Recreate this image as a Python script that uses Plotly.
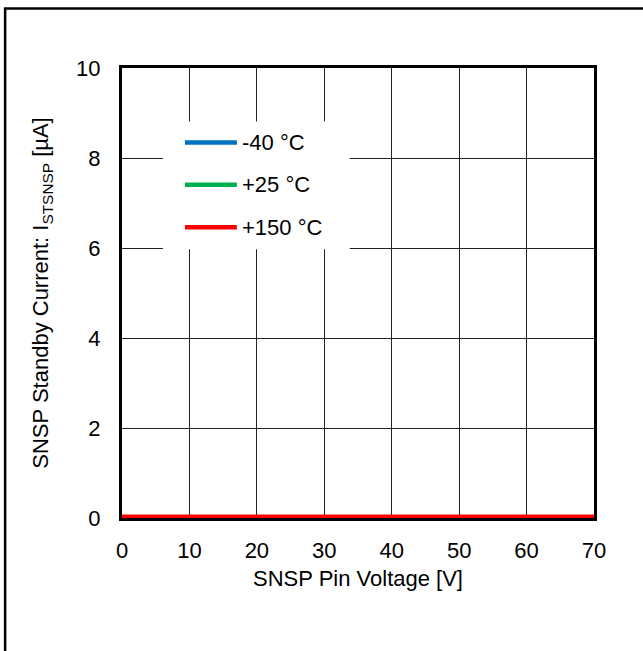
import plotly.graph_objects as go

# SNSP pin voltage sweep [V] and standby current [uA] per temperature
voltage = [0, 5, 10, 15, 20, 25, 30, 35, 40, 45, 50, 55, 60, 65, 70]
i_m40 = [0.0, 0.0, 0.0, 0.0, 0.0, 0.0, 0.0, 0.0, 0.0, 0.0, 0.0, 0.0, 0.0, 0.0, 0.0]
i_p25 = [0.0, 0.0, 0.0, 0.0, 0.0, 0.0, 0.0, 0.0, 0.0, 0.0, 0.0, 0.0, 0.0, 0.0, 0.0]
i_p150 = [0.01, 0.01, 0.01, 0.01, 0.01, 0.01, 0.01, 0.01, 0.01, 0.01, 0.01, 0.01, 0.01, 0.01, 0.01]

names = ["-40 °C", "+25 °C", "+150 °C"]
colors = ["#0070C0", "#00B050", "#FF0000"]

W, H = 643, 651
L, R, T, B = 122, 48.5, 67.5, 133
PW, PH = W - L - R, H - T - B
FONT = "Arial, Liberation Sans, sans-serif"
FS = 22


def px_x(p):
    return (p - L) / PW


def px_y(p):
    return (H - B - p) / PH


fig = go.Figure()
for name, col, ys in zip(names, colors, [i_m40, i_p25, i_p150]):
    fig.add_trace(go.Scatter(x=voltage, y=ys, mode="lines", name=name,
                             line=dict(color=col, width=6), cliponaxis=False))

axis_common = dict(showline=True, linecolor="black", linewidth=3, mirror=True,
                   showgrid=True, gridcolor="#222222", gridwidth=1,
                   zeroline=False, ticks="", layer="below traces",
                   tickfont=dict(size=FS, color="black", family=FONT))

fig.update_xaxes(range=[0, 70], dtick=10, ticklabelstandoff=11,
                 title=dict(text="SNSP Pin Voltage [V]", standoff=9,
                            font=dict(size=FS, color="black", family=FONT)),
                 **axis_common)
fig.update_yaxes(range=[0, 10], dtick=2, ticklabelstandoff=14,
                 title=dict(text="SNSP Standby Current: I<sub>STSNSP</sub> [µA]", standoff=22,
                            font=dict(size=FS, color="black", family=FONT)),
                 **axis_common)

shapes = [
    # outer chart frame (cropped at right/bottom)
    dict(type="rect", xref="paper", yref="paper", x0=px_x(5), x1=px_x(720),
         y0=px_y(720), y1=px_y(8), line=dict(color="black", width=2.5), layer="below"),
    # legend background
    dict(type="rect", xref="paper", yref="paper", x0=px_x(163), x1=px_x(350),
         y0=px_y(249), y1=px_y(121), fillcolor="white", line=dict(width=0), layer="above"),
]
annotations = []
rows = [142, 184.5, 227]
for name, col, yy in zip(names, colors, rows):
    shapes.append(dict(type="line", xref="paper", yref="paper", x0=px_x(185), x1=px_x(237),
                       y0=px_y(yy), y1=px_y(yy), line=dict(color=col, width=4.5), layer="above"))
    annotations.append(dict(xref="paper", yref="paper", x=px_x(240), y=px_y(yy),
                            xanchor="left", yanchor="middle", showarrow=False, text=name,
                            font=dict(size=FS, color="black", family=FONT)))

fig.update_layout(width=W, height=H, margin=dict(l=L, r=R, t=T, b=B, autoexpand=False),
                  paper_bgcolor="white", plot_bgcolor="white", showlegend=False,
                  shapes=shapes, annotations=annotations,
                  font=dict(family=FONT, color="black"))

fig.write_html("out.html", config={"displayModeBar": False},
               post_script="document.body.style.margin='0';document.body.style.overflow='hidden';")
